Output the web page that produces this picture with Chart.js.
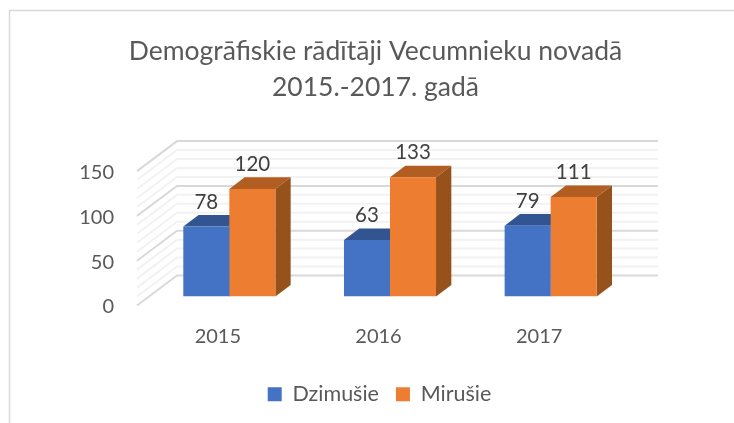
<!DOCTYPE html>
<html>
<head>
<meta charset="utf-8">
<style>html,body{margin:0;padding:0;background:#fff}canvas{display:block}</style>
<script src="https://cdn.jsdelivr.net/npm/chart.js@4"></script>
</head>
<body>
<canvas id="c" width="734" height="423"></canvas>
<script>
const titleLines = ["Demogrāfiskie rādītāji Vecumnieku novadā", "2015.-2017. gadā"];
const categories = ["2015", "2016", "2017"];
const dzimusie = [78, 63, 79];
const mirusie = [120, 133, 111];
const seriesNames = ["Dzimušie", "Mirušie"];
const frontColors = ["#4472C4", "#ED7D31"];
const topColors = ["#325592", "#B25D22"];
const sideColors = ["#2A477C", "#97521C"];

const FONT = "Lato";
const wall = {frontX: 137, backX: 177, rightX: 658, frontDy: 9, backDy: -21};
const barDepth = {dx: 15.3, dy: -11.6};

const scene = {
  id: "scene",
  afterLayout(chart) {
    chart.titleBlock.left += 60; chart.titleBlock.right += 60;
    chart.legend.left += 64; chart.legend.right += 64;
  },
  beforeDraw(chart) {
    const c = chart.ctx;
    c.save();
    c.strokeStyle = "#D9D9D9"; c.lineWidth = 1.5;
    c.beginPath(); c.moveTo(9.5, 423); c.lineTo(9.5, 10.5); c.lineTo(734, 10.5); c.stroke();
    c.restore();
  },
  beforeDatasetsDraw(chart) {
    const c = chart.ctx, y = chart.scales.y;
    c.save();
    c.lineWidth = 2;
    [false, true].forEach(major => {
      y.ticks.forEach(t => {
        if ((t.value % 50 === 0) !== major) return;
        const p = y.getPixelForValue(t.value);
        c.strokeStyle = major ? "#D9D9D9" : "#F2F2F2";
        c.beginPath();
        c.moveTo(wall.frontX, p + wall.frontDy);
        c.lineTo(wall.backX, p + wall.backDy);
        c.lineTo(wall.rightX, p + wall.backDy);
        c.stroke();
      });
    });
    chart.data.datasets.forEach((ds, di) => {
      chart.getDatasetMeta(di).data.forEach(bar => {
        const hw = bar.width / 2, l = bar.x - hw, r = bar.x + hw, t = bar.y, b = bar.base;
        const dx = barDepth.dx, dy = barDepth.dy;
        c.fillStyle = topColors[di];
        c.beginPath(); c.moveTo(l, t); c.lineTo(l + dx, t + dy); c.lineTo(r + dx, t + dy); c.lineTo(r, t); c.closePath(); c.fill();
        c.fillStyle = sideColors[di];
        c.beginPath(); c.moveTo(r, t); c.lineTo(r + dx, t + dy); c.lineTo(r + dx, b + dy); c.lineTo(r, b); c.closePath(); c.fill();
      });
    });
    c.restore();
  },
  afterDatasetsDraw(chart) {
    const c = chart.ctx;
    c.save();
    c.font = "20.5px " + FONT;
    c.fillStyle = "#404040";
    c.textAlign = "center"; c.textBaseline = "middle";
    chart.data.datasets.forEach((ds, di) => {
      chart.getDatasetMeta(di).data.forEach((bar, i) => {
        c.fillText(String(ds.data[i]), bar.x, bar.y - 24.5);
      });
    });
    c.restore();
  }
};

new Chart(document.getElementById("c"), {
  type: "bar",
  data: {
    labels: categories,
    datasets: [
      {label: seriesNames[0], data: dzimusie, backgroundColor: frontColors[0]},
      {label: seriesNames[1], data: mirusie, backgroundColor: frontColors[1]}
    ]
  },
  options: {
    responsive: false,
    animation: false,
    layout: {padding: {left: 0, right: 103, top: 0, bottom: 8}},
    datasets: {bar: {categoryPercentage: 0.573, barPercentage: 1}},
    plugins: {
      tooltip: {enabled: false},
      title: {
        display: true,
        text: titleLines,
        color: "#595959",
        font: {family: FONT, size: 26.5, weight: "normal", lineHeight: 1.36},
        padding: {top: 33, bottom: 57}
      },
      legend: {
        position: "bottom",
        labels: {
          color: "#595959",
          font: {family: FONT, size: 21.5},
          boxWidth: 14, boxHeight: 14, padding: 17
        }
      }
    },
    scales: {
      x: {
        grid: {display: false, drawTicks: false},
        border: {display: false},
        afterFit(s) { s.height = 70; },
        ticks: {color: "#595959", font: {family: FONT, size: 20}, padding: 28, labelOffset: -11.5, maxRotation: 0}
      },
      y: {
        min: 0, max: 150,
        grid: {display: false, drawTicks: false},
        border: {display: false},
        afterFit(s) { s.width = 149; },
        ticks: {
          stepSize: 10, autoSkip: false,
          color: "#595959", font: {family: FONT, size: 20}, padding: 35, labelOffset: 10.5,
          callback: v => (v % 50 === 0 ? String(v) : "")
        }
      }
    }
  },
  plugins: [scene]
});
</script>
</body>
</html>
